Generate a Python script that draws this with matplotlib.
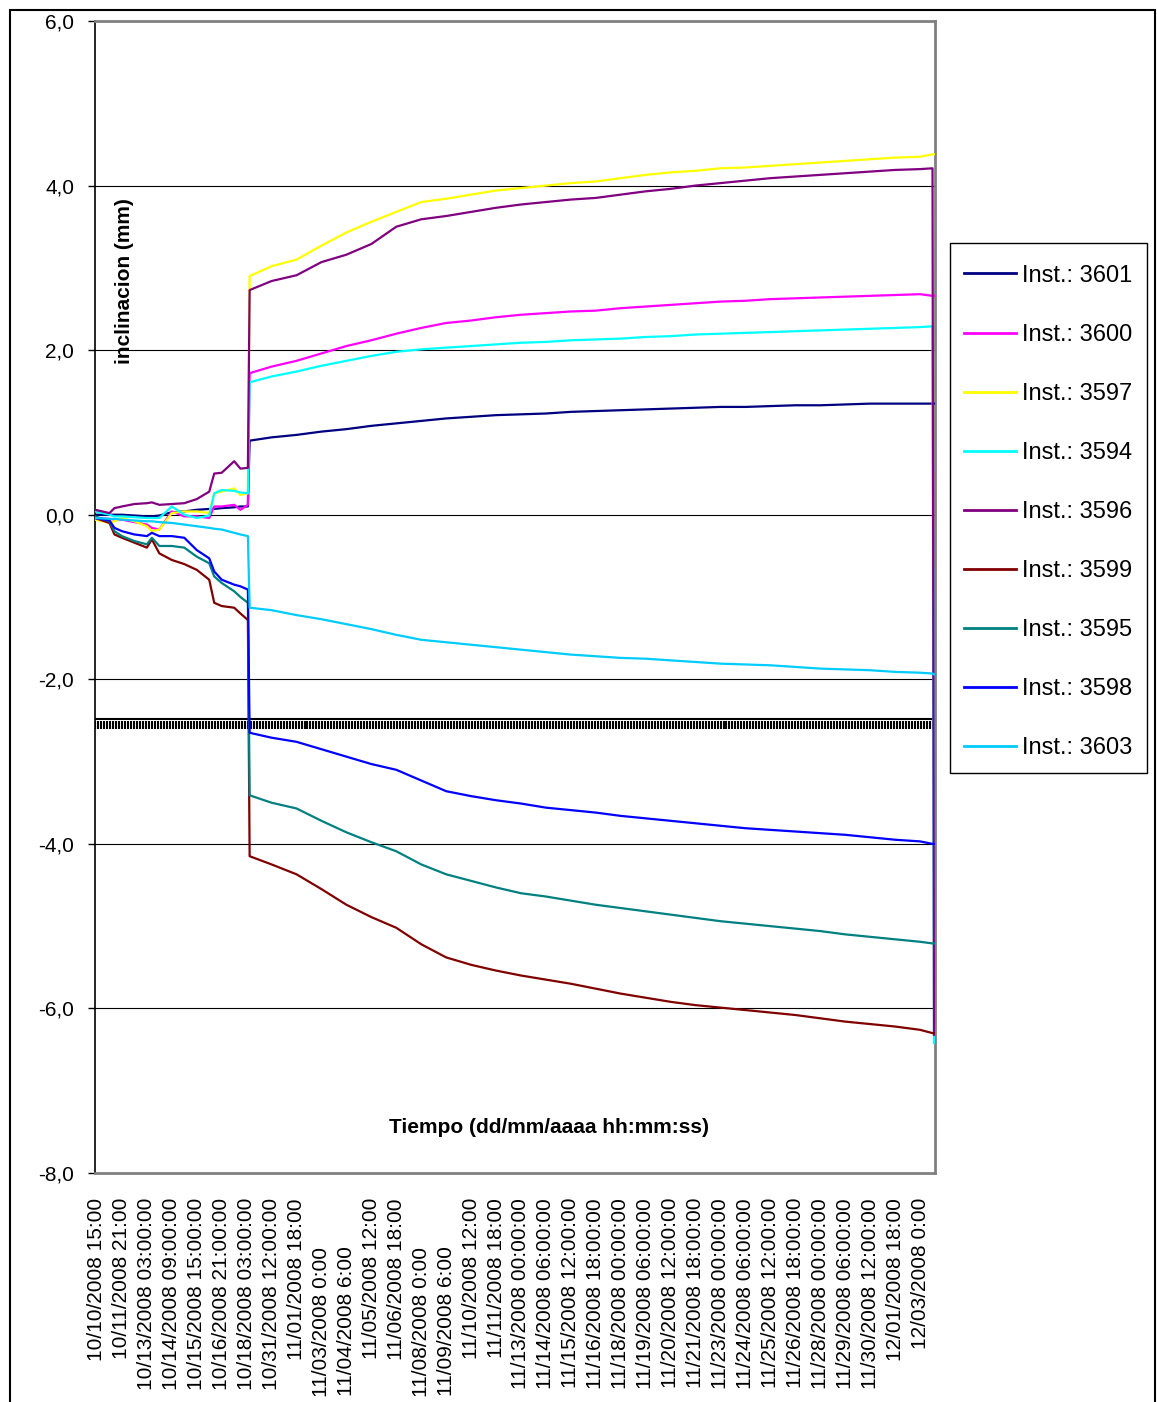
import numpy as np
import matplotlib
matplotlib.use("Agg")
import matplotlib.pyplot as plt
from matplotlib.patches import Rectangle

plt.rcParams['font.family'] = ['Liberation Sans', 'DejaVu Sans']

# category positions (1 step = one 30 h label); gap after 10/18 is compressed like in the sheet
x_pre = [-0.08, 0.5, 0.7, 1, 1.5, 2, 2.2, 2.5, 3, 3.5, 4, 4.5, 4.7, 5, 5.5, 5.75, 6.05]
x_post = [6.12] + list(range(7, 34)) + [33.5]
x_end = [33.56]
x_all = x_pre + x_post + x_end

tick_labels = [
    "10/10/2008 15:00", "10/11/2008 21:00", "10/13/2008 03:00:00", "10/14/2008 09:00:00",
    "10/15/2008 15:00:00", "10/16/2008 21:00:00", "10/18/2008 03:00:00", "10/31/2008 12:00:00",
    "11/01/2008 18:00", "11/03/2008 0:00", "11/04/2008 6:00", "11/05/2008 12:00",
    "11/06/2008 18:00", "11/08/2008 0:00", "11/09/2008 6:00", "11/10/2008 12:00",
    "11/11/2008 18:00", "11/13/2008 00:00:00", "11/14/2008 06:00:00", "11/15/2008 12:00:00",
    "11/16/2008 18:00:00", "11/18/2008 00:00:00", "11/19/2008 06:00:00", "11/20/2008 12:00:00",
    "11/21/2008 18:00:00", "11/23/2008 00:00:00", "11/24/2008 06:00:00", "11/25/2008 12:00:00",
    "11/26/2008 18:00:00", "11/28/2008 00:00:00", "11/29/2008 06:00:00", "11/30/2008 12:00:00",
    "12/01/2008 18:00", "12/03/2008 0:00",
]
shifted_labels = [9, 10, 13, 14]   # these sit lower in the original

# readings (mm): pre-jump / after jump (start, labels 7..33, last) / final sample
i3601 = ([0.0, 0.0, 0.0, 0.0, -0.01, -0.02, -0.02, -0.01, 0.03, 0.04, 0.06, 0.07, 0.07, 0.08, 0.09, 0.10, 0.10]
         + [0.90, 0.94, 0.97, 1.01, 1.04, 1.08, 1.11, 1.14, 1.17, 1.19, 1.21, 1.22, 1.23, 1.25, 1.26,
            1.27, 1.28, 1.29, 1.30, 1.31, 1.31, 1.32, 1.33, 1.33, 1.34, 1.35, 1.35, 1.35, 1.35]
         + [1.35])
i3600 = ([-0.04, -0.05, -0.06, -0.06, -0.09, -0.12, -0.16, -0.18, 0.04, -0.02, -0.02, -0.04, 0.10, 0.10, 0.12, 0.06, 0.12]
         + [1.72, 1.80, 1.87, 1.96, 2.05, 2.12, 2.20, 2.27, 2.33, 2.36, 2.40, 2.43, 2.45, 2.47, 2.48,
            2.51, 2.53, 2.55, 2.57, 2.59, 2.60, 2.62, 2.63, 2.64, 2.65, 2.66, 2.67, 2.68, 2.66]
         + [2.66])
i3597 = ([-0.06, -0.10, -0.08, -0.04, -0.08, -0.14, -0.20, -0.18, 0.02, 0.04, 0.04, 0.02, 0.26, 0.28, 0.32, 0.24, 0.26]
         + [2.90, 3.02, 3.10, 3.27, 3.43, 3.56, 3.68, 3.80, 3.84, 3.89, 3.94, 3.97, 4.00, 4.03, 4.05,
            4.09, 4.13, 4.16, 4.18, 4.21, 4.22, 4.24, 4.26, 4.28, 4.30, 4.32, 4.34, 4.35, 4.38]
         + [4.38])
i3594 = ([0.04, 0.0, -0.02, -0.02, -0.03, -0.04, -0.04, -0.04, 0.10, 0.0, -0.04, -0.01, 0.26, 0.30, 0.29, 0.27, 0.26]
         + [1.61, 1.68, 1.74, 1.81, 1.87, 1.93, 1.98, 2.01, 2.03, 2.05, 2.07, 2.09, 2.10, 2.12, 2.13,
            2.14, 2.16, 2.17, 2.19, 2.20, 2.21, 2.22, 2.23, 2.24, 2.25, 2.26, 2.27, 2.28, 2.29]
         + [-6.42])
i3596 = ([0.06, 0.02, 0.08, 0.10, 0.13, 0.14, 0.15, 0.12, 0.13, 0.14, 0.19, 0.28, 0.50, 0.51, 0.65, 0.56, 0.57]
         + [2.73, 2.84, 2.91, 3.07, 3.16, 3.29, 3.50, 3.59, 3.63, 3.68, 3.73, 3.77, 3.80, 3.83, 3.85,
            3.89, 3.93, 3.96, 4.00, 4.03, 4.06, 4.09, 4.11, 4.13, 4.15, 4.17, 4.19, 4.20, 4.21]
         + [-6.32])
i3599 = ([-0.04, -0.10, -0.24, -0.28, -0.34, -0.40, -0.30, -0.47, -0.55, -0.60, -0.67, -0.79, -1.07, -1.11, -1.13, -1.20, -1.28]
         + [-4.15, -4.25, -4.37, -4.55, -4.74, -4.89, -5.02, -5.22, -5.38, -5.47, -5.54, -5.60, -5.65, -5.70, -5.76,
            -5.82, -5.87, -5.92, -5.96, -5.99, -6.02, -6.05, -6.08, -6.12, -6.16, -6.19, -6.22, -6.26, -6.30]
         + [-6.30])
i3595 = ([-0.02, -0.08, -0.20, -0.26, -0.32, -0.36, -0.28, -0.38, -0.38, -0.40, -0.51, -0.59, -0.75, -0.83, -0.93, -1.00, -1.07]
         + [-3.41, -3.50, -3.57, -3.72, -3.86, -3.98, -4.09, -4.25, -4.37, -4.45, -4.53, -4.60, -4.64, -4.69, -4.74,
            -4.78, -4.82, -4.86, -4.90, -4.94, -4.97, -5.00, -5.03, -5.06, -5.10, -5.13, -5.16, -5.19, -5.21]
         + [-5.21])
i3598 = ([-0.04, -0.07, -0.16, -0.20, -0.24, -0.26, -0.22, -0.26, -0.26, -0.28, -0.43, -0.53, -0.69, -0.79, -0.85, -0.87, -0.91]
         + [-2.65, -2.71, -2.76, -2.85, -2.94, -3.03, -3.10, -3.23, -3.36, -3.42, -3.47, -3.51, -3.56, -3.59, -3.62,
            -3.66, -3.69, -3.72, -3.75, -3.78, -3.81, -3.83, -3.85, -3.87, -3.89, -3.92, -3.95, -3.97, -4.00]
         + [-4.00])
i3603 = ([-0.04, -0.05, -0.05, -0.06, -0.07, -0.08, -0.08, -0.09, -0.10, -0.12, -0.14, -0.16, -0.17, -0.18, -0.22, -0.24, -0.26]
         + [-1.13, -1.16, -1.22, -1.27, -1.33, -1.39, -1.46, -1.52, -1.55, -1.58, -1.61, -1.64, -1.67, -1.70, -1.72,
            -1.74, -1.75, -1.77, -1.79, -1.81, -1.82, -1.83, -1.85, -1.87, -1.88, -1.89, -1.91, -1.92, -1.93]
         + [-1.94])

threshold = -2.53

series = [
    ("Inst.: 3601", i3601, "#000080"),
    ("Inst.: 3600", i3600, "#FF00FF"),
    ("Inst.: 3597", i3597, "#FFFF00"),
    ("Inst.: 3594", i3594, "#00FFFF"),
    ("Inst.: 3596", i3596, "#800080"),
    ("Inst.: 3599", i3599, "#800000"),
    ("Inst.: 3595", i3595, "#008080"),
    ("Inst.: 3598", i3598, "#0000FF"),
    ("Inst.: 3603", i3603, "#00CCFF"),
]

W, H = 1157, 1402
fig = plt.figure(figsize=(W / 100, H / 100), dpi=100)
ax = fig.add_axes([95 / W, 1 - 1173 / H, 840 / W, 1152 / H])

ax.set_xlim(-0.08, 33.6)
ax.set_ylim(-8, 6)

for y in [-6, -4, -2, 0, 2, 4]:
    ax.axhline(y, color="black", lw=0.8, zorder=1)

# thick dashed-looking limit line
xt = np.arange(-0.08, 33.6, 0.12)
ax.axhline(threshold + 0.05, color="black", lw=1.5, zorder=2)
ax.plot(xt, np.full(len(xt), threshold - 0.02), ls="none", marker="|", ms=6, mew=1.5,
        color="black", zorder=2)

for name, vals, col in series:
    ax.plot(x_all, vals, color=col, lw=1.6, label=name, zorder=3)

ax.set_yticks(np.arange(-8, 7, 2))
ax.set_yticklabels([f"{v:.1f}".replace(".", ",") for v in np.arange(-8, 7, 2)])
ax.tick_params(axis="y", labelsize=15, length=5, width=1, pad=10, direction="out")

ax.set_xticks(range(len(tick_labels)))
ax.set_xticklabels([])
ax.tick_params(axis="x", length=0)
for i, lab in enumerate(tick_labels):
    drop = 35 if i in shifted_labels else 0
    ax.annotate(lab, xy=(i, 0), xycoords=("data", "axes fraction"),
                xytext=(0, -18 - drop), textcoords="offset points",
                rotation=90, ha="center", va="top", fontsize=15)

ax.spines["left"].set_color("black")
for s in ["top", "right", "bottom"]:
    ax.spines[s].set_color("#808080")
    ax.spines[s].set_linewidth(2)
ax.spines["left"].set_linewidth(1.2)

ax.text(0.0357, 0.774, "inclinacion (mm)", rotation=90, ha="center", va="center",
        fontsize=15, fontweight="bold", transform=ax.transAxes)
ax.text(0.5405, 0.0395, "Tiempo (dd/mm/aaaa hh:mm:ss)", ha="center", va="center",
        fontsize=15, fontweight="bold", transform=ax.transAxes)

# legend box drawn separately so its padding matches the original
fig.add_artist(Rectangle((950 / W, 1 - 773 / H), 197 / W, 530 / H, transform=fig.transFigure,
                         fill=False, edgecolor="black", lw=1))
leg = fig.legend(loc="center", bbox_to_anchor=(1048.5 / W, 1 - 512 / H), fontsize=17,
                 frameon=False, handlelength=2.2, handletextpad=0.25, labelspacing=1.57,
                 borderpad=0.2)
for line in leg.get_lines():
    line.set_linewidth(2)

fig.add_artist(Rectangle((10 / W, -0.01), 1145 / W, 1 - 10 / H + 0.01, transform=fig.transFigure,
                         fill=False, edgecolor="black", lw=1.5))

fig.savefig("out.png", dpi=100)
